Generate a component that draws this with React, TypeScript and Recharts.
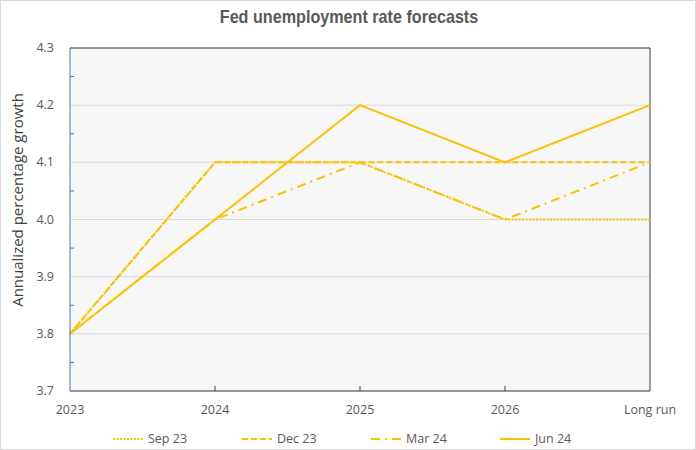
import React from "react";
import { LineChart, Line, XAxis, YAxis, CartesianGrid, ReferenceLine } from "recharts";

// Fed SEP median unemployment rate forecasts
const categories = ["2023", "2024", "2025", "2026", "Long run"];
const sep23 = [3.8, 4.1, 4.1, 4.0, 4.0];
const dec23 = [3.8, 4.1, 4.1, 4.1, 4.1];
const mar24 = [3.8, 4.0, 4.1, 4.0, 4.1];
const jun24 = [3.8, 4.0, 4.2, 4.1, 4.2];

const yMajorTicks = [3.7, 3.8, 3.9, 4.0, 4.1, 4.2, 4.3];
const yMinorTicks = [3.75, 3.85, 3.95, 4.05, 4.15, 4.25];

const GOLD = "#ffc000";
const TEXT = "#595959";
const FONT = "'Open Sans', 'Noto Sans', sans-serif";

const series = [
  { key: "sep23", name: "Sep 23", dash: "2 1.5" },
  { key: "dec23", name: "Dec 23", dash: "6 3" },
  { key: "mar24", name: "Mar 24", dash: "9 5 2 5" },
  { key: "jun24", name: "Jun 24", dash: undefined },
];

const data = categories.map((c, i) => ({
  year: c,
  sep23: sep23[i],
  dec23: dec23[i],
  mar24: mar24[i],
  jun24: jun24[i],
}));

const allYTicks = [...yMajorTicks, ...yMinorTicks].sort((a, b) => a - b);

const YTick = ({ x, y, payload }: any) => {
  const v = payload.value;
  const major = yMajorTicks.some((t) => Math.abs(t - v) < 1e-6);
  if (!major) {
    return <line x1={x + 16} x2={x + 20} y1={y} y2={y} stroke="#4472c4" strokeWidth={1} />;
  }
  return (
    <text x={x} y={y} dy={4} textAnchor="end" fill={TEXT} fontSize={12.5} fontFamily={FONT}>
      {v.toFixed(1)}
    </text>
  );
};

const XTick = ({ x, y, payload, index }: any) => {
  const inner = index > 0 && index < categories.length - 1;
  return (
    <g>
      {inner && <line x1={x} x2={x} y1={y - 13} y2={y - 18} stroke="#404040" strokeWidth={1} />}
      <text x={x} y={y} dy={10} textAnchor="middle" fill={TEXT} fontSize={12.5} fontFamily={FONT}>
        {payload.value}
      </text>
    </g>
  );
};

export default function App() {
  return (
    <div
      style={{
        position: "absolute",
        left: 0,
        top: 0,
        width: 696,
        height: 450,
        boxSizing: "border-box",
        border: "1px solid #d9d9d9",
        background: "#fff",
        fontFamily: FONT,
        overflow: "hidden",
      }}
    >
      <div
        style={{
          position: "absolute",
          top: 5,
          left: 0,
          width: 696,
          textAlign: "center",
          fontFamily: "'Liberation Sans', Arial, sans-serif",
          fontWeight: "bold",
          fontSize: 19,
          color: TEXT,
          transform: "scaleX(0.85)",
        }}
      >
        Fed unemployment rate forecasts
      </div>
      <div
        style={{
          position: "absolute",
          left: 16,
          top: 199,
          transform: "translate(-50%, -50%) rotate(-90deg)",
          whiteSpace: "nowrap",
          fontSize: 15,
          color: "#404040",
        }}
      >
        Annualized percentage growth
      </div>
      <div style={{ position: "absolute", left: -1, top: -1 }}>
        <LineChart width={696} height={450} data={data} margin={{ top: 48, right: 46, left: 0, bottom: 29 }}>
          <CartesianGrid
            fill="#f7f7f7"
            stroke="#d9d9d9"
            vertical={false}
            horizontalValues={yMajorTicks}
          />
          <ReferenceLine y={4.3} stroke="#404040" strokeWidth={1} />
          <ReferenceLine x="Long run" stroke="#404040" strokeWidth={1} />
          <XAxis
            dataKey="year"
            scale="point"
            padding={{ left: 0, right: 0 }}
            height={30}
            stroke="#404040"
            tickLine={false}
            tickSize={0}
            tickMargin={13}
            interval={0}
            tick={<XTick />}
          />
          <YAxis
            domain={[3.7, 4.3]}
            ticks={allYTicks}
            interval={0}
            width={70}
            stroke="#4472c4"
            tickLine={false}
            tickSize={0}
            tickMargin={16}
            tick={<YTick />}
          />
          {series.map((s) => (
            <Line
              key={s.key}
              dataKey={s.key}
              name={s.name}
              type="linear"
              stroke={GOLD}
              strokeWidth={2}
              strokeDasharray={s.dash}
              dot={false}
              activeDot={false}
              isAnimationActive={false}
            />
          ))}
        </LineChart>
      </div>
      <div
        style={{
          position: "absolute",
          left: 111,
          top: 429,
          display: "flex",
          fontSize: 12.5,
          color: TEXT,
        }}
      >
        {series.map((s) => (
          <div key={s.key} style={{ width: 129, display: "flex", alignItems: "center" }}>
            <svg width={32} height={16}>
              <line x1={1} x2={31} y1={8} y2={8} stroke={GOLD} strokeWidth={2} strokeDasharray={s.dash} />
            </svg>
            <span style={{ marginLeft: 4 }}>{s.name}</span>
          </div>
        ))}
      </div>
    </div>
  );
}
